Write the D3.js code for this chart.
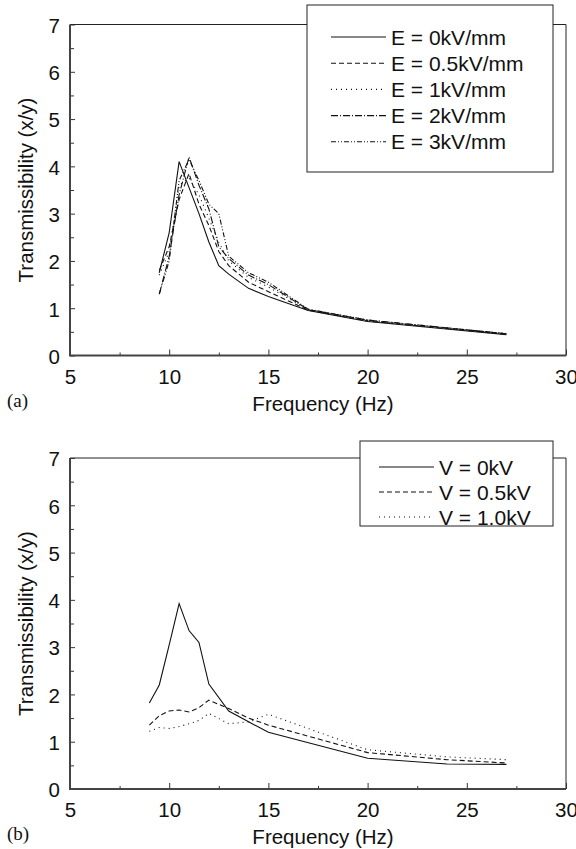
<!DOCTYPE html>
<html>
<head>
<meta charset="utf-8">
<script src="https://cdn.jsdelivr.net/npm/d3@7"></script>
<style>
  body { margin: 0; background: #fff; }
  svg text { font-family: "Liberation Sans", Arial, sans-serif; fill: #111; }
</style>
</head>
<body>
<div id="chart"></div>
<script>
// panel (a): electric field strength
const freqA = [9.5, 10, 10.5, 11, 11.5, 12, 12.5, 13, 14, 15, 17, 20, 27];
const e0 = [1.75, 2.6, 4.1, 3.55, 3.0, 2.4, 1.9, 1.72, 1.42, 1.25, 0.95, 0.72, 0.44];
const e05 = [1.8, 2.3, 3.3, 3.85, 3.2, 2.75, 2.2, 1.9, 1.55, 1.35, 0.96, 0.73, 0.45];
const e1 = [1.7, 2.2, 3.6, 3.75, 3.4, 2.9, 2.4, 2.0, 1.65, 1.45, 0.97, 0.74, 0.46];
const e2 = [1.3, 2.1, 3.4, 4.2, 3.6, 3.1, 2.3, 2.05, 1.7, 1.5, 0.97, 0.75, 0.46];
const e3 = [1.3, 2.0, 3.7, 4.15, 3.7, 3.2, 3.0, 2.1, 1.75, 1.55, 0.98, 0.75, 0.46];
const labelsA = ['E = 0kV/mm', 'E = 0.5kV/mm', 'E = 1kV/mm', 'E = 2kV/mm', 'E = 3kV/mm'];

// panel (b): voltage
const freqB = [9, 9.5, 10, 10.5, 11, 11.5, 12, 13, 14, 15, 20, 24, 27];
const v0 = [1.82, 2.2, 3.05, 3.92, 3.35, 3.1, 2.22, 1.65, 1.42, 1.2, 0.65, 0.53, 0.52];
const v05 = [1.35, 1.55, 1.65, 1.67, 1.63, 1.72, 1.88, 1.7, 1.5, 1.35, 0.77, 0.62, 0.55];
const v1 = [1.22, 1.3, 1.28, 1.32, 1.38, 1.45, 1.6, 1.38, 1.42, 1.58, 0.83, 0.68, 0.62];
const labelsB = ['V = 0kV', 'V = 0.5kV', 'V = 1.0kV'];

const xTicks = [5, 10, 15, 20, 25, 30];
const yTicks = [0, 1, 2, 3, 4, 5, 6, 7];

const dashes = ['none', '5,3', '1,4', '7,2,1,2', '5,2,1,2,1,2'];

const width = 576;
const height = 849;

const svg = d3.select('#chart')
  .append('svg')
  .attr('width', width)
  .attr('height', height);

function drawPanel(opts) {
  const { top, bottom, freq, series, labels, tag, legend } = opts;

  const x = d3.scaleLinear().domain([5, 30]).range([70, 566]);
  const y = d3.scaleLinear().domain([0, 7]).range([bottom, top]);

  const g = svg.append('g');

  // frame top/right
  g.append('path')
    .attr('d', `M${x(5)},${y(7)}H${x(30)}V${y(0)}`)
    .attr('fill', 'none')
    .attr('stroke', '#222')
    .attr('stroke-width', 1);

  // minor ticks
  g.append('g')
    .attr('transform', `translate(0,${y(0)})`)
    .call(d3.axisBottom(x).tickValues(d3.range(7.5, 30, 5)).tickSize(-3).tickFormat(''))
    .call((a) => a.select('.domain').remove());
  g.append('g')
    .attr('transform', `translate(${x(5)},0)`)
    .call(d3.axisLeft(y).tickValues(d3.range(0.5, 7, 1)).tickSize(-4).tickFormat(''))
    .call((a) => a.select('.domain').remove());

  // major ticks
  const xa = g.append('g')
    .attr('transform', `translate(0,${y(0)})`)
    .call(d3.axisBottom(x).tickValues(xTicks).tickSize(-6).tickPadding(28).tickFormat(d3.format('d')));
  xa.select('.domain').remove();
  xa.selectAll('text').attr('font-size', 20.5).attr('dy', null);

  const ya = g.append('g')
    .attr('transform', `translate(${x(5)},0)`)
    .call(d3.axisLeft(y).tickValues(yTicks).tickSize(-5).tickPadding(10).tickFormat(d3.format('d')));
  ya.select('.domain').remove();
  ya.selectAll('text').attr('font-size', 20.5).attr('dy', '0.38em');

  g.selectAll('.tick line').attr('stroke', '#333');

  // heavy axis lines
  g.append('path')
    .attr('d', `M${x(5)},${y(7)}V${y(0)}H${x(30)}`)
    .attr('fill', 'none')
    .attr('stroke', '#444')
    .attr('stroke-width', 2);

  // curves
  const line = d3.line()
    .x((d) => x(d[0]))
    .y((d) => y(d[1]));

  series.forEach((vals, i) => {
    g.append('path')
      .datum(freq.map((f, j) => [f, vals[j]]))
      .attr('d', line)
      .attr('fill', 'none')
      .attr('stroke', '#111')
      .attr('stroke-width', 1.1)
      .attr('stroke-dasharray', dashes[i]);
  });

  // axis titles
  g.append('text')
    .attr('x', 323)
    .attr('y', y(0) + 55)
    .attr('text-anchor', 'middle')
    .attr('font-size', 20.5)
    .text('Frequency (Hz)');

  g.append('text')
    .attr('transform', `translate(33,${(y(0) + y(7)) / 2}) rotate(-90)`)
    .attr('text-anchor', 'middle')
    .attr('font-size', 20.5)
    .text('Transmissibility (x/y)');

  g.append('text')
    .attr('x', 7)
    .attr('y', y(0) + 51)
    .attr('font-size', 19)
    .style('font-family', '"Liberation Serif", "Times New Roman", serif')
    .text(tag);

  // legend
  const lg = g.append('g');
  lg.append('rect')
    .attr('x', legend.x0)
    .attr('y', legend.y0)
    .attr('width', 553 - legend.x0)
    .attr('height', legend.y1 - legend.y0)
    .attr('fill', '#fff')
    .attr('stroke', '#222')
    .attr('stroke-width', 1);

  labels.forEach((lab, i) => {
    const ry = legend.rowY + i * legend.step;
    lg.append('line')
      .attr('x1', legend.lx)
      .attr('x2', legend.lx + 55)
      .attr('y1', ry)
      .attr('y2', ry)
      .attr('stroke', '#111')
      .attr('stroke-width', 1.1)
      .attr('stroke-dasharray', dashes[i]);
    lg.append('text')
      .attr('x', legend.lx + 60)
      .attr('y', ry)
      .attr('dy', '0.36em')
      .attr('font-size', 21)
      .text(lab);
  });
}

drawPanel({
  top: 24.5,
  bottom: 355.5,
  freq: freqA,
  series: [e0, e05, e1, e2, e3],
  labels: labelsA,
  tag: '(a)',
  legend: { x0: 307, y0: 5, y1: 172, lx: 331, rowY: 37, step: 26.2 },
});

drawPanel({
  top: 458,
  bottom: 789,
  freq: freqB,
  series: [v0, v05, v1],
  labels: labelsB,
  tag: '(b)',
  legend: { x0: 360, y0: 441, y1: 526, lx: 379, rowY: 467, step: 25 },
});
</script>
</body>
</html>
